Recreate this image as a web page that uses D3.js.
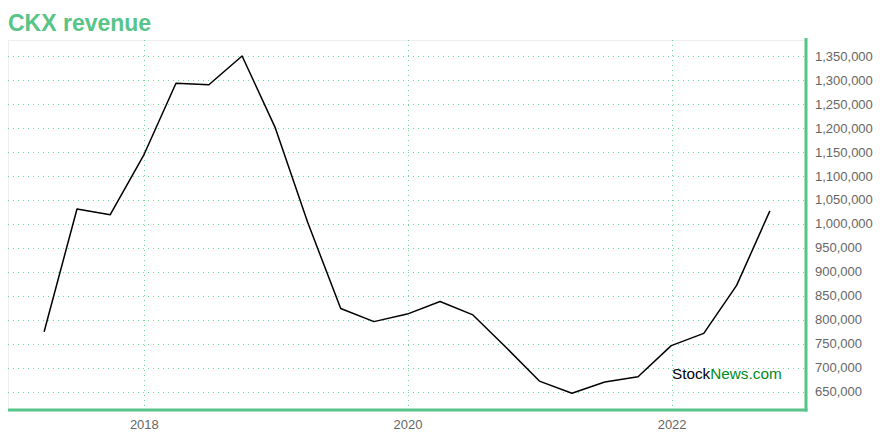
<!DOCTYPE html>
<html>
<head>
<meta charset="utf-8">
<script src="https://cdn.jsdelivr.net/npm/d3@7"></script>
<style>
  html, body { margin: 0; padding: 0; background: #fff; }
  svg { display: block; font-family: "Liberation Sans", Arial, Helvetica, sans-serif; }
</style>
</head>
<body>
<svg id="chart" width="880" height="440"></svg>
<script>
const title = "CKX revenue";
const dates = ["2017-03-31","2017-06-30","2017-09-30","2017-12-31",
  "2018-03-31","2018-06-30","2018-09-30","2018-12-31",
  "2019-03-31","2019-06-30","2019-09-30","2019-12-31",
  "2020-03-31","2020-06-30","2020-09-30","2020-12-31",
  "2021-03-31","2021-06-30","2021-09-30","2021-12-31",
  "2022-03-31","2022-06-30","2022-09-30"];
const revenue = [775000, 1031000, 1019000, 1142000,
  1293000, 1290000, 1350000, 1200000,
  1002000, 823500, 796000, 811700,
  838000, 810000, 742000, 672000,
  646500, 670000, 681000, 746000,
  771500, 871500, 1027000];
const yTicks = [650000,700000,750000,800000,850000,900000,950000,1000000,
  1050000,1100000,1150000,1200000,1250000,1300000,1350000];
const xTickYears = [2018, 2020, 2022];
const xDomain = ["2016-12-21", "2023-01-08"];
const yDomain = [611700, 1383300];

const parse = d3.timeParse("%Y-%m-%d");
const data = dates.map((d, i) => ({ date: parse(d), value: revenue[i] }));

const svg = d3.select("#chart");
const m = { left: 8, top: 40, right: 806, bottom: 410 };
const green = "#58c487";

const x = d3.scaleTime().domain(xDomain.map(parse)).range([m.left, m.right]);
const y = d3.scaleLinear().domain(yDomain).range([m.bottom, m.top]);

// title
svg.append("text").attr("x", 8).attr("y", 31)
  .attr("fill", green).attr("font-size", 23).attr("font-weight", "bold")
  .text(title);

// plot frame (top + left light)
svg.append("line").attr("x1", m.left).attr("x2", m.right).attr("y1", m.top + 0.5).attr("y2", m.top + 0.5)
  .attr("stroke", "#eeeeee");
svg.append("line").attr("x1", m.left + 0.5).attr("x2", m.left + 0.5).attr("y1", m.top).attr("y2", m.bottom)
  .attr("stroke", "#eeeeee");

// grid
const grid = svg.append("g");
grid.selectAll("line.h").data(yTicks).join("line")
  .attr("x1", m.left).attr("x2", m.right)
  .attr("y1", d => Math.round(y(d)) + 0.5).attr("y2", d => Math.round(y(d)) + 0.5)
  .attr("stroke", "#6fd69a").attr("stroke-dasharray", "1,4");
const xTickDates = xTickYears.map(yr => new Date(yr, 0, 1));
grid.selectAll("line.v").data(xTickDates).join("line")
  .attr("x1", d => Math.round(x(d)) + 0.5).attr("x2", d => Math.round(x(d)) + 0.5)
  .attr("y1", m.top).attr("y2", m.bottom)
  .attr("stroke", "#6fd69a").attr("stroke-dasharray", "1,4");

// line
svg.append("path").datum(data)
  .attr("fill", "none").attr("stroke", "#000").attr("stroke-width", 1.5)
  .attr("stroke-linejoin", "round")
  .attr("d", d3.line().x(d => x(d.date)).y(d => y(d.value)));

// right axis
const yAxis = d3.axisRight(y).tickValues(yTicks).tickSize(0).tickPadding(9)
  .tickFormat(d3.format(","));
const gy = svg.append("g").attr("transform", `translate(${m.right},0)`).call(yAxis);
gy.select(".domain").remove();
gy.selectAll("text").attr("fill", "#666").attr("font-size", 13)
  .attr("font-family", "'Liberation Sans', Arial, sans-serif");

// bottom axis
const xAxis = d3.axisBottom(x).tickValues(xTickDates).tickSize(0).tickPadding(10)
  .tickFormat(d3.timeFormat("%Y"));
const gx = svg.append("g").attr("transform", `translate(0,${m.bottom})`).call(xAxis);
gx.select(".domain").remove();
gx.selectAll("text").attr("fill", "#666").attr("font-size", 13)
  .attr("font-family", "'Liberation Sans', Arial, sans-serif");

// axis lines (green, thick)
svg.append("line").attr("x1", m.left).attr("x2", m.right + 1.5).attr("y1", m.bottom).attr("y2", m.bottom)
  .attr("stroke", green).attr("stroke-width", 3);
svg.append("line").attr("x1", m.right).attr("x2", m.right).attr("y1", m.top - 2).attr("y2", m.bottom + 1.5)
  .attr("stroke", green).attr("stroke-width", 3);

// watermark
const wm = svg.append("text").attr("x", 672).attr("y", 379).attr("font-size", 15.3);
wm.append("tspan").attr("fill", "#000").text("Stock");
wm.append("tspan").attr("fill", "#008a1e").text("News.com");
</script>
</body>
</html>
